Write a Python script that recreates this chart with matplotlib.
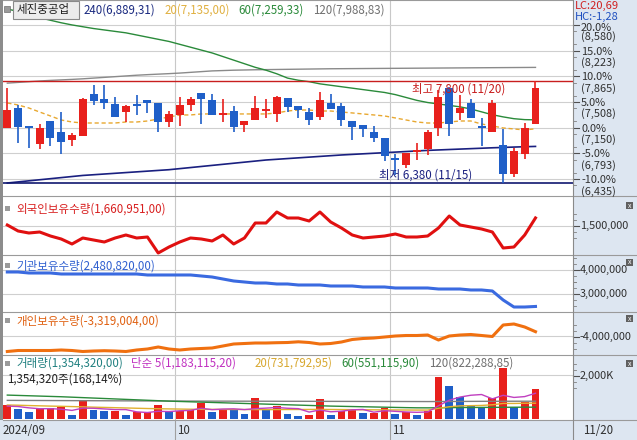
import matplotlib
matplotlib.use('Agg')
import matplotlib.pyplot as plt
from matplotlib.patches import Rectangle

plt.rcParams['font.family'] = ['Noto Sans CJK KR', 'DejaVu Sans']

# ---- price data (2024/09/04 .. 2024/11/20) ----
opens = [7150, 7430, 7160, 6920, 7240, 7090, 6980, 7030, 7620, 7550,
         7480, 7370, 7460, 7540, 7500, 7230, 7320, 7470, 7630, 7540,
         7340, 7380, 7190, 7250, 7400, 7340, 7560, 7450, 7370, 7300,
         7490, 7450, 7240, 7190, 7090, 7010, 6730, 6630, 6820, 6860,
         7140, 7700, 7350, 7500, 7170, 7090, 6910, 6500, 6780, 7200]
highs = [7700, 7460, 7160, 7200, 7240, 7370, 7080, 7560, 7740, 7740,
         7570, 7470, 7600, 7540, 7500, 7380, 7580, 7580, 7630, 7620,
         7550, 7450, 7240, 7590, 7550, 7590, 7560, 7450, 7430, 7650,
         7620, 7500, 7240, 7190, 7180, 7010, 6790, 6800, 6930, 7120,
         7680, 7720, 7600, 7550, 7280, 7540, 7130, 6870, 7210, 7800]
lows = [7150, 6930, 6870, 6850, 6890, 6780, 6900, 7030, 7470, 7410,
        7300, 7230, 7330, 7350, 7090, 7160, 7180, 7380, 7200, 7330,
        7230, 7090, 7090, 7250, 7280, 7230, 7370, 7280, 7190, 7260,
        7410, 7170, 6980, 7020, 6950, 6690, 6490, 6590, 6700, 6770,
        7030, 7030, 7250, 7280, 6890, 7090, 6380, 6470, 6720, 7200]
closes = [7400, 7160, 7150, 7140, 7000, 6950, 7050, 7550, 7520, 7500,
          7300, 7450, 7450, 7490, 7230, 7340, 7470, 7550, 7550, 7330,
          7350, 7160, 7240, 7420, 7410, 7570, 7440, 7390, 7260, 7540,
          7410, 7260, 7160, 7130, 7000, 6760, 6700, 6800, 6830, 7090,
          7570, 7200, 7420, 7280, 7140, 7500, 6510, 6820, 7150, 7700]

ma20 = [7494, 7466, 7424, 7368, 7313, 7257, 7229, 7215, 7215, 7215,
        7215, 7229, 7229, 7243, 7271, 7299, 7327, 7327, 7341, 7341,
        7341, 7341, 7341, 7341, 7341, 7355, 7382, 7396, 7396, 7382,
        7382, 7368, 7355, 7341, 7327, 7313, 7285, 7257, 7229, 7215,
        7215, 7229, 7243, 7243, 7201, 7174, 7146, 7132, 7118, 7135]
ma60 = [8800, 8770, 8720, 8680, 8645, 8610, 8580, 8555, 8530, 8510,
        8490, 8470, 8440, 8410, 8380, 8350, 8310, 8270, 8230, 8190,
        8140, 8090, 8040, 7990, 7950, 7900, 7840, 7810, 7790, 7760,
        7740, 7720, 7700, 7680, 7660, 7640, 7610, 7570, 7530, 7500,
        7480, 7460, 7440, 7410, 7370, 7330, 7300, 7275, 7262, 7259]
ma120 = [7770, 7780, 7790, 7800, 7808, 7815, 7822, 7830, 7840, 7850,
         7860, 7870, 7880, 7888, 7895, 7902, 7910, 7920, 7930, 7940,
         7945, 7950, 7953, 7956, 7958, 7960, 7962, 7964, 7966, 7968,
         7970, 7971, 7972, 7973, 7974, 7975, 7976, 7977, 7978, 7979,
         7980, 7981, 7982, 7983, 7984, 7985, 7986, 7987, 7988, 7989]
ma240 = [6380, 6395, 6410, 6425, 6440, 6455, 6470, 6485, 6495, 6505,
         6515, 6525, 6535, 6545, 6555, 6565, 6580, 6595, 6610, 6625,
         6640, 6655, 6670, 6685, 6700, 6710, 6720, 6730, 6740, 6750,
         6760, 6770, 6778, 6786, 6794, 6802, 6810, 6818, 6826, 6834,
         6840, 6846, 6852, 6858, 6864, 6870, 6875, 6880, 6885, 6889]

foreign = [1520000, 1400000, 1360000, 1380000, 1300000, 1240000, 1140000, 1260000, 1220000, 1180000,
           1260000, 1320000, 1260000, 1280000, 960000, 1080000, 1180000, 1260000, 1240000, 1200000,
           1320000, 1140000, 1260000, 1560000, 1560000, 1780000, 1660000, 1660000, 1600000, 1780000,
           1580000, 1460000, 1320000, 1260000, 1280000, 1300000, 1340000, 1280000, 1280000, 1300000,
           1460000, 1700000, 1520000, 1480000, 1440000, 1380000, 1060000, 1080000, 1320000, 1660951]
institution = [3917000, 3917000, 3875000, 3875000, 3875000, 3833000, 3833000, 3833000, 3833000, 3833000,
               3833000, 3833000, 3833000, 3792000, 3792000, 3792000, 3792000, 3792000, 3750000, 3708000,
               3625000, 3542000, 3500000, 3458000, 3458000, 3417000, 3417000, 3375000, 3375000, 3375000,
               3333000, 3333000, 3333000, 3292000, 3292000, 3292000, 3250000, 3250000, 3250000, 3250000,
               3208000, 3208000, 3208000, 3167000, 3167000, 3125000, 2750000, 2458000, 2458000, 2480820]
individual = [-6449000, -6291000, -6291000, -6291000, -6291000, -6212000, -6291000, -6449000, -6370000, -6323000,
              -6370000, -6449000, -6212000, -6054000, -5738000, -6054000, -6212000, -6054000, -5975000, -5896000,
              -5580000, -5264000, -5185000, -5106000, -5106000, -5059000, -5027000, -4916000, -5027000, -5264000,
              -5185000, -4948000, -4553000, -4395000, -4316000, -4158000, -4000000, -3921000, -3921000, -3842000,
              -4632000, -4000000, -3842000, -3763000, -3921000, -4079000, -2262000, -2104000, -2578000, -3319004]

volume = [650, 468, 318, 454, 527, 540, 195, 832, 423, 377,
          390, 195, 318, 350, 650, 318, 377, 408, 756, 332,
          454, 423, 241, 968, 454, 605, 241, 150, 195, 923,
          195, 377, 468, 273, 303, 527, 241, 318, 195, 377,
          1938, 1514, 1029, 605, 545, 954, 2318, 541, 800, 1354.32]
vma5 = [600, 580, 520, 480, 483, 459, 404, 507, 501, 471,
        441, 441, 338, 308, 363, 351, 387, 405, 502, 438,
        465, 475, 441, 484, 508, 538, 502, 484, 329, 423,
        341, 368, 432, 447, 323, 390, 362, 332, 317, 332,
        614, 868, 1011, 1093, 1126, 929, 1090, 993, 1032, 1183]
vma20 = [650, 640, 625, 612, 600, 590, 578, 566, 552, 540,
         528, 515, 502, 490, 480, 472, 465, 458, 452, 450,
         448, 446, 444, 442, 440, 442, 444, 446, 448, 450,
         446, 442, 438, 434, 430, 428, 425, 422, 420, 420,
         500, 570, 610, 620, 630, 660, 720, 720, 730, 732]
vma60 = [1100, 1085, 1070, 1055, 1040, 1025, 1005, 985, 965, 945,
         925, 905, 885, 865, 845, 825, 810, 795, 780, 765,
         750, 735, 720, 705, 690, 675, 660, 645, 630, 615,
         600, 590, 580, 570, 560, 550, 540, 530, 522, 520,
         525, 530, 535, 538, 540, 543, 546, 548, 550, 551]
vma120 = [860, 858, 856, 854, 852, 850, 848, 846, 844, 842,
          840, 838, 836, 834, 832, 830, 829, 828, 827, 826,
          825, 824, 823, 822, 821, 820, 819, 818, 817, 816,
          815, 814, 813, 812, 811, 810, 809, 808, 807, 806,
          808, 810, 812, 814, 816, 818, 820, 821, 822, 822]

pct_levels = ['20.0%', '15.0%', '10.0%', '5.0%', '0.0%', '-5.0%', '-10.0%']
price_levels = [8580, 8223, 7865, 7508, 7150, 6793, 6435]

RED = '#e8201c'
BLUE = '#1f5fc8'
FS = 8.3
W, H = 637, 440
fig = plt.figure(figsize=(W / 100, H / 100), dpi=100)
fig.patch.set_facecolor('white')

def pane(y0, y1, x0=3, x1=573):
    a = fig.add_axes([x0 / W, 1 - y1 / H, (x1 - x0) / W, (y1 - y0) / H])
    a.set_xlim(-0.4, 52.48)
    a.set_xticks([])
    a.set_yticks([])
    for s in a.spines.values():
        s.set_visible(False)
    a.axvline(15.58, color='#c8c8c8', lw=0.8, zorder=0)
    a.axvline(35.5, color='#c8c8c8', lw=0.8, zorder=0)
    return a

def ftext(x, y, s, **kw):
    kw.setdefault('va', 'center')
    kw.setdefault('fontsize', FS)
    return fig.text(x / W, 1 - y / H, s, **kw)

def frect(x0, y0, x1, y1, **kw):
    fig.patches.append(Rectangle((x0 / W, 1 - y1 / H), (x1 - x0) / W, (y1 - y0) / H,
                                 transform=fig.transFigure, **kw))

def fline(x0, y0, x1, y1, **kw):
    fig.add_artist(plt.Line2D([x0 / W, x1 / W], [1 - y0 / H, 1 - y1 / H], **kw))

def rtick(y, label):
    fline(573, y, 579, y, color='#505050', lw=0.8)
    for d in (-12, -6, 6, 12):
        fline(573, y + d, 576, y + d, color='#808080', lw=0.6)
    ftext(580, y, label, color='#303030', fontsize=7.9)

# right and bottom strips
frect(573, 0, 637, 440, facecolor='#dde6f1', edgecolor='none', zorder=-5)
frect(0, 420, 637, 440, facecolor='#dde6f1', edgecolor='none', zorder=-5)
frect(0, 0, 3, 420, facecolor='#8c8c8c', edgecolor='none', zorder=-5)

x = list(range(len(closes)))

# ---- main price pane ----
ax = pane(0, 196)
ax.set_ylim(6199, 8927)
for p in price_levels:
    ax.axhline(p, color='#cfcfcf', lw=0.8, zorder=0)
for i in x:
    o, h, l, c = opens[i], highs[i], lows[i], closes[i]
    col = RED if c >= o else BLUE
    ax.vlines(i, l, h, color=col, lw=1.2, zorder=3)
    if abs(c - o) < 15:
        ax.hlines(o, i - 0.36, i + 0.36, color=col, lw=1.4, zorder=3)
    else:
        ax.bar(i, abs(c - o), bottom=min(o, c), width=0.74, color=col, zorder=3)
ax.plot(x, ma120, color='#8a8a8a', lw=1.0, zorder=2)
ax.plot(x, ma60, color='#2a8a3a', lw=1.0, zorder=2)
ax.plot(x, ma20, color='#e8a830', lw=1.0, ls=(0, (3, 2)), zorder=2)
ax.plot(x, ma240, color='#1a2080', lw=1.2, zorder=2)
ax.axhline(7800, color='#c81e1e', lw=1.0, zorder=2)
ax.axhline(6380, color='#101870', lw=1.2, zorder=2)
ax.text(37.5, 7685, '최고 7,800 (11/20)', color='#c81e1e', fontsize=FS, va='center', zorder=4)
ax.text(34.5, 6490, '최저 6,380 (11/15)', color='#1a2080', fontsize=FS, va='center', zorder=4)

# price axis labels: percent on the tick, price below it
p2y = lambda p: 81 + (7800 - p) / 13.92
for pl, pr in zip(pct_levels, price_levels):
    yy = p2y(pr)
    fline(573, yy, 579, yy, color='#505050', lw=0.8)
    fline(573, yy + 6.4, 576, yy + 6.4, color='#808080', lw=0.6)
    fline(573, yy - 6.4, 576, yy - 6.4, color='#808080', lw=0.6)
    off = 3 if pr == 8580 else 1
    ftext(581, yy + off, pl, color='#303030', fontsize=7.9)
    ftext(581, yy + 12, '(%s)' % format(pr, ','), color='#303030', fontsize=7.9)

# header
frect(4, 6, 10, 12, facecolor='#9a9a9a', edgecolor='#707070', lw=0.5, zorder=5)
frect(13, 1, 79, 19, facecolor='#ececec', edgecolor='#8a8a8a', lw=0.8, zorder=5)
ftext(17, 10, '세진중공업', color='#202020', zorder=6)
ftext(84, 10, '240(6,889,31)', color='#1a2a80')
ftext(165, 10, '20(7,135,00)', color='#e0b040')
ftext(238, 10, '60(7,259,33)', color='#2a8a3a')
ftext(313, 10, '120(7,988,83)', color='#707070')
frect(574, 0, 637, 21, facecolor='#dde6f1', edgecolor='none', zorder=4)
ftext(575, 6, 'LC:20,69', color='#d02020', fontsize=8.0, zorder=6)
ftext(575, 16.5, 'HC:-1,28', color='#2050c0', fontsize=8.0, zorder=6)

# ---- foreign holdings ----
a2 = pane(197, 255)
a2.set_ylim(920000, 2080000)
a2.axhline(1500000, color='#cfcfcf', lw=0.8, zorder=0)
a2.plot(x, foreign, color='#e01010', lw=2.2)
frect(5, 206, 10, 211, facecolor='#9a9a9a', edgecolor='none')
ftext(16, 209, '외국인보유수량(1,660,951,00)', color='#d82020')
rtick(226, '1,500,000')

# ---- institution holdings ----
a3 = pane(256, 311)
a3.set_ylim(2291700, 4583000)
a3.axhline(4000000, color='#cfcfcf', lw=0.8, zorder=0)
a3.axhline(3000000, color='#cfcfcf', lw=0.8, zorder=0)
a3.plot(x, institution, color='#3a6ae0', lw=2.2)
frect(5, 263, 10, 268, facecolor='#9a9a9a', edgecolor='none')
ftext(16, 266, '기관보유수량(2,480,820,00)', color='#3060d0')
rtick(270, '4,000,000')
rtick(294, '3,000,000')

# ---- individual holdings ----
a4 = pane(312, 354)
a4.set_ylim(-6844000, -208000)
a4.axhline(-4000000, color='#cfcfcf', lw=0.8, zorder=0)
a4.plot(x, individual, color='#f07010', lw=2.2)
frect(5, 318, 10, 323, facecolor='#9a9a9a', edgecolor='none')
ftext(16, 321, '개인보유수량(-3,319,004,00)', color='#e06010')
rtick(337, '-4,000,000')

# ---- volume ----
a5 = pane(355, 420)
a5.set_ylim(-32, 2922)
a5.axhline(2000, color='#cfcfcf', lw=0.8, zorder=0)
vcol = [RED] + [RED if volume[i] >= volume[i - 1] else BLUE for i in range(1, len(volume))]
a5.bar(x, volume, width=0.72, color=vcol, zorder=2)
a5.plot(x, vma120, color='#808080', lw=1.0, zorder=3)
a5.plot(x, vma60, color='#2a8a3a', lw=1.0, zorder=3)
a5.plot(x, vma20, color='#e0b030', lw=1.0, zorder=3)
a5.plot(x, vma5, color='#c040c0', lw=1.0, zorder=3)
frect(5, 361, 10, 366, facecolor='#9a9a9a', edgecolor='none')
ftext(16, 363, '거래량(1,354,320,00)', color='#208080')
ftext(131, 363, '단순 5(1,183,115,20)', color='#c030c0')
ftext(255, 363, '20(731,792,95)', color='#d8a830')
ftext(341, 363, '60(551,115,90)', color='#2a8a3a')
ftext(429, 363, '120(822,288,85)', color='#707070')
ftext(7, 379, '1,354,320주(168,14%)', color='#202020')
rtick(376, '2,000K')

# close icons
for yy in (205, 262, 318, 363):
    frect(626, yy - 3, 633, yy + 4, facecolor='#606060', edgecolor='none')
    ftext(629.5, yy + 0.5, 'x', color='white', fontsize=5, ha='center')

# separators
for yy in (0.5, 196, 255.5, 311.5, 354.5, 420):
    fline(3, yy, 637, yy, color='#9a9a9a', lw=0.8)
fline(573, 0, 573, 440, color='#8a8a8a', lw=0.8)
for xx in (175, 390):
    fline(xx, 420, xx, 440, color='#a0a0a0', lw=0.8)

# x axis labels
ftext(3, 430, '2024/09', color='#303030', fontsize=8.3)
ftext(177, 430, '10', color='#303030', fontsize=8.3)
ftext(392, 430, '11', color='#303030', fontsize=8.3)
ftext(583, 430, '11/20', color='#303030', fontsize=8.3)

fig.savefig('out.png', dpi=100)
